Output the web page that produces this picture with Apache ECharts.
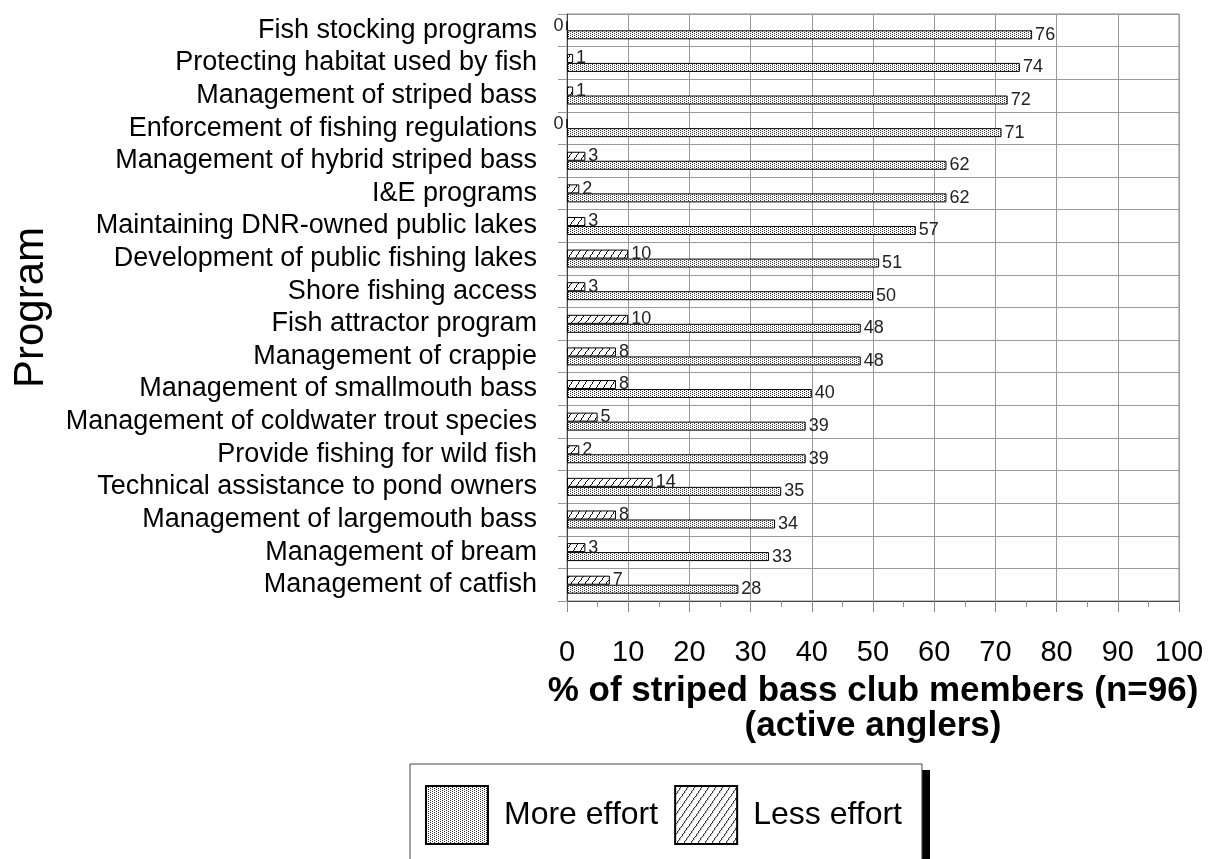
<!DOCTYPE html>
<html>
<head>
<meta charset="utf-8">
<script src="https://cdn.jsdelivr.net/npm/echarts@6/dist/echarts.min.js"></script>
<style>
html,body{margin:0;padding:0;background:#fff;}
#chart{width:1210px;height:859px;}
</style>
</head>
<body>
<div id="chart"></div>
<script>
const categories = [
  'Fish stocking programs',
  'Protecting habitat used by fish',
  'Management of striped bass',
  'Enforcement of fishing regulations',
  'Management of hybrid striped bass',
  'I&E programs',
  'Maintaining DNR-owned public lakes',
  'Development of public fishing lakes',
  'Shore fishing access',
  'Fish attractor program',
  'Management of crappie',
  'Management of smallmouth bass',
  'Management of coldwater trout species',
  'Provide fishing for wild fish',
  'Technical assistance to pond owners',
  'Management of largemouth bass',
  'Management of bream',
  'Management of catfish'
];
const lessEffort = [0, 1, 1, 0, 3, 2, 3, 10, 3, 10, 8, 8, 5, 2, 14, 8, 3, 7];
const moreEffort = [76, 74, 72, 71, 62, 62, 57, 51, 50, 48, 48, 40, 39, 39, 35, 34, 33, 28];
const xMin = 0, xMax = 100, xStep = 10;
const seriesNames = ['More effort', 'Less effort'];
const yAxisTitle = 'Program';
const xAxisTitle = '% of striped bass club members (n=96)\n(active anglers)';

const FONT = '"Liberation Sans", Arial, sans-serif';

function dotPattern() {
  const c = document.createElement('canvas');
  c.width = 4; c.height = 2;
  const g = c.getContext('2d');
  g.fillStyle = '#fff'; g.fillRect(0, 0, 4, 2);
  g.fillStyle = '#333';
  g.fillRect(0, 0, 1, 1);
  g.fillRect(2, 1, 1, 1);
  return c;
}
function hatchPattern() {
  const w = 7, h = 10;
  const c = document.createElement('canvas');
  c.width = w; c.height = h;
  const g = c.getContext('2d');
  g.fillStyle = '#fff'; g.fillRect(0, 0, w, h);
  g.fillStyle = '#111';
  for (let y = 0; y < h; y++) {
    const x = Math.floor((h - 1 - y) * w / h);
    g.fillRect(x, y, 1, 1);
  }
  return c;
}

function toItems(arr) {
  return arr.map(v => v === 0 ? { value: v, label: { position: 'left', distance: 3 } } : v);
}

const labelStyle = {
  show: true, position: 'right', distance: 3,
  fontSize: 18, color: '#222', fontFamily: FONT
};

const chart = echarts.init(document.getElementById('chart'), null, { renderer: 'canvas' });
chart.setOption({
  backgroundColor: '#fff',
  animation: false,
  grid: { left: 567, right: 31, top: 14, bottom: 258, show: true, borderColor: '#888', borderWidth: 1, containLabel: false },
  graphic: [{
    type: 'rect', z: 0,
    shape: { x: 417, y: 770, width: 513, height: 120 },
    style: { fill: '#000' }
  }],
  legend: {
    data: seriesNames,
    left: 410, top: 764, z: 10,
    orient: 'horizontal',
    itemWidth: 62, itemHeight: 58, itemGap: 16,
    padding: [21, 20, 21, 15],
    backgroundColor: '#fff',
    borderColor: '#444', borderWidth: 1,
    icon: 'rect',
    textStyle: { fontSize: 32, color: '#000', fontFamily: FONT, padding: [0, 0, 0, 11] }
  },
  xAxis: {
    type: 'value', min: xMin, max: xMax, interval: xStep,
    name: xAxisTitle, nameLocation: 'middle', nameGap: 73,
    nameTextStyle: { fontSize: 35, fontWeight: 'bold', color: '#000', fontFamily: FONT, lineHeight: 35 },
    axisLine: { show: true, lineStyle: { color: '#444', width: 1 } },
    axisTick: { show: true, length: 11, lineStyle: { color: '#888' } },
    minorTick: { show: true, splitNumber: 2, length: 6, lineStyle: { color: '#888' } },
    axisLabel: { fontSize: 29, color: '#000', fontFamily: FONT, margin: 37 },
    splitLine: { show: true, lineStyle: { color: '#999', width: 1 } }
  },
  yAxis: {
    type: 'category', inverse: true, data: categories,
    name: yAxisTitle, nameLocation: 'middle', nameGap: 515,
    nameTextStyle: { fontSize: 42, color: '#000', fontFamily: FONT },
    axisLine: { show: true, lineStyle: { color: '#444', width: 1 } },
    axisTick: { show: true, interval: 0, length: 9, lineStyle: { color: '#999' } },
    axisLabel: { interval: 0, fontSize: 27, color: '#000', fontFamily: FONT, margin: 30 },
    splitLine: { show: true, interval: 0, lineStyle: { color: '#999', width: 1 } }
  },
  series: [
    {
      name: seriesNames[1], type: 'bar',
      data: toItems(lessEffort),
      barWidth: 9, barGap: '0%',
      itemStyle: { color: { image: hatchPattern(), repeat: 'repeat' }, borderColor: '#000', borderWidth: 1 },
      label: labelStyle
    },
    {
      name: seriesNames[0], type: 'bar',
      data: toItems(moreEffort),
      barWidth: 9, barGap: '0%',
      itemStyle: { color: { image: dotPattern(), repeat: 'repeat' }, borderColor: '#000', borderWidth: 1 },
      label: labelStyle
    }
  ]
});
</script>
</body>
</html>
